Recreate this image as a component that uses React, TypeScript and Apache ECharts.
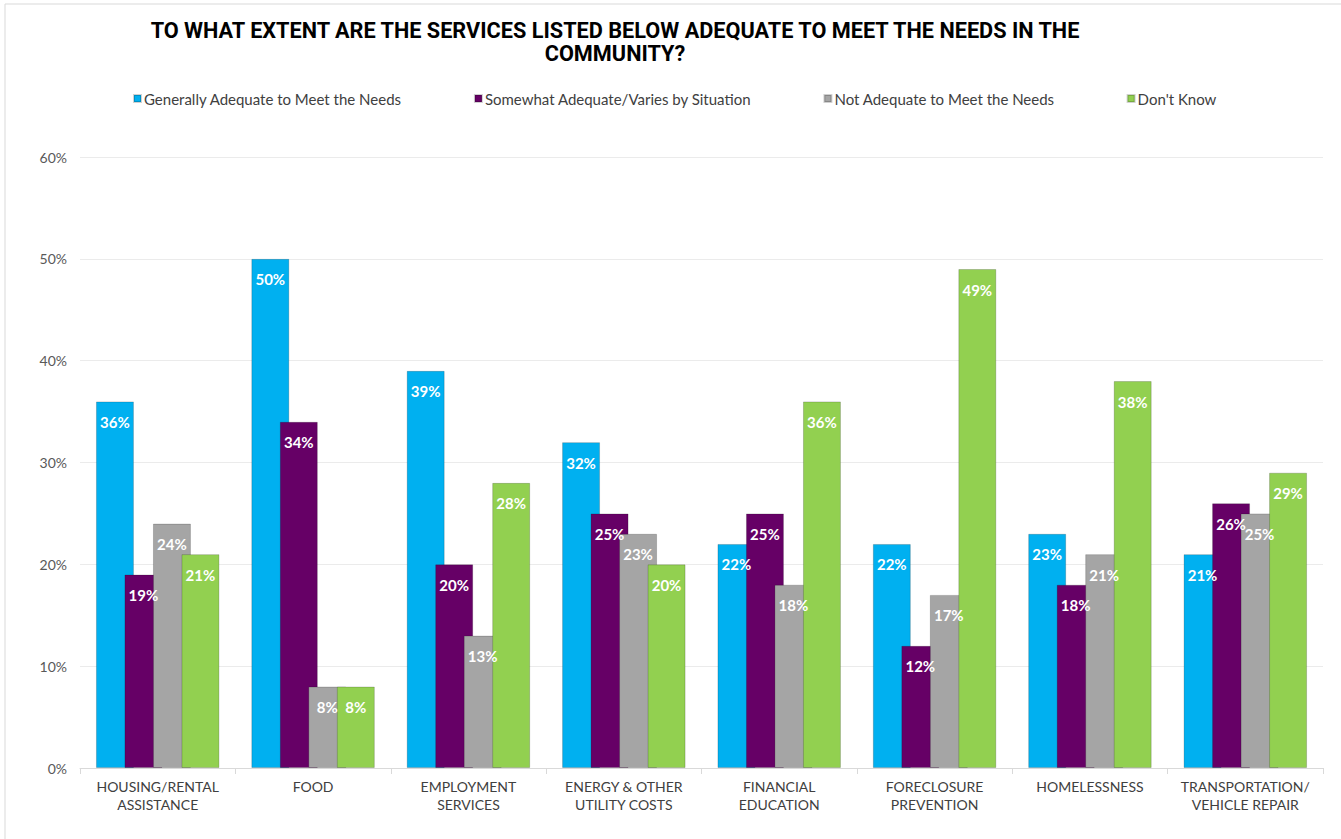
import React, { useEffect, useRef } from "react";
import * as echarts from "echarts";

const categories = [
  "HOUSING/RENTAL\nASSISTANCE",
  "FOOD",
  "EMPLOYMENT\nSERVICES",
  "ENERGY & OTHER\nUTILITY COSTS",
  "FINANCIAL\nEDUCATION",
  "FORECLOSURE\nPREVENTION",
  "HOMELESSNESS",
  "TRANSPORTATION/\nVEHICLE REPAIR",
];
const seriesNames = [
  "Generally Adequate to Meet the Needs",
  "Somewhat Adequate/Varies by Situation",
  "Not Adequate to Meet the Needs",
  "Don't Know",
];
const generallyAdequate = [36, 50, 39, 32, 22, 22, 23, 21];
const somewhatAdequate = [19, 34, 20, 25, 25, 12, 18, 26];
const notAdequate = [24, 8, 13, 23, 18, 17, 21, 25];
const dontKnow = [21, 8, 28, 20, 36, 49, 38, 29];
const colors = ["#00B0F0", "#660066", "#A5A5A5", "#92D050"];
const titleText =
  "TO WHAT EXTENT ARE THE SERVICES LISTED BELOW ADEQUATE TO MEET THE NEEDS IN THE\nCOMMUNITY?";

export default function App() {
  const ref = useRef<HTMLDivElement>(null);
  useEffect(() => {
    if (!ref.current) return;
    const chart = echarts.init(ref.current, undefined, { renderer: "svg" });
    const data = [generallyAdequate, somewhatAdequate, notAdequate, dontKnow];
    const font = "Lato, 'Noto Sans', sans-serif";
    chart.setOption({
      animation: false,
      backgroundColor: "#fff",
      color: colors,
      graphic: [
        {
          type: "rect",
          shape: { x: 5, y: 4, width: 1500, height: 1000 },
          style: { fill: "none", stroke: "#D9D9D9", lineWidth: 1 },
          silent: true,
          z: -10,
        },
      ],
      title: {
        text: titleText,
        left: 610,
        top: 14,
        textAlign: "center",
        textStyle: {
          fontFamily: "Roboto, sans-serif",
          fontWeight: "bold",
          fontSize: 21.7,
          lineHeight: 23,
          color: "#000",
        },
      },
      legend: {
        data: seriesNames,
        left: 128,
        top: 86,
        icon: "rect",
        itemWidth: 7,
        itemHeight: 7,
        itemGap: 72,
        textStyle: { fontFamily: font, fontSize: 15, color: "#404040", padding: [0, 0, 0, -2] },
      },
      grid: { left: 80, right: 18, top: 157, bottom: 71, containLabel: false },
      xAxis: {
        type: "category",
        data: categories,
        axisLine: { lineStyle: { color: "#D9D9D9", width: 1 } },
        axisTick: { show: true, length: 6, lineStyle: { color: "#D9D9D9" } },
        axisLabel: {
          fontFamily: font,
          fontSize: 14,
          lineHeight: 18,
          color: "#404040",
          margin: 9,
          interval: 0,
        },
      },
      yAxis: {
        type: "value",
        min: 0,
        max: 60,
        interval: 10,
        axisLine: { show: false },
        axisTick: { show: false },
        axisLabel: {
          formatter: "{value}%",
          fontFamily: font,
          fontSize: 14,
          color: "#595959",
          margin: 13,
        },
        splitLine: { lineStyle: { color: "#EBEBEB", width: 1 } },
      },
      series: seriesNames.map((name, i) => ({
        name,
        type: "bar",
        data: data[i],
        barWidth: 38,
        barGap: "-25%",
        itemStyle: { color: colors[i], borderColor: "rgba(0,0,0,0.18)", borderWidth: 1 },
        label: {
          show: true,
          position: "insideTop",
          distance: 13,
          formatter: "{c}%",
          color: "#fff",
          fontFamily: font,
          fontWeight: "bold",
          fontSize: 15,
        },
      })),
    });
    return () => chart.dispose();
  }, []);
  return (
    <div
      ref={ref}
      style={{ position: "fixed", left: 0, top: 0, width: 1341, height: 839 }}
    />
  );
}
